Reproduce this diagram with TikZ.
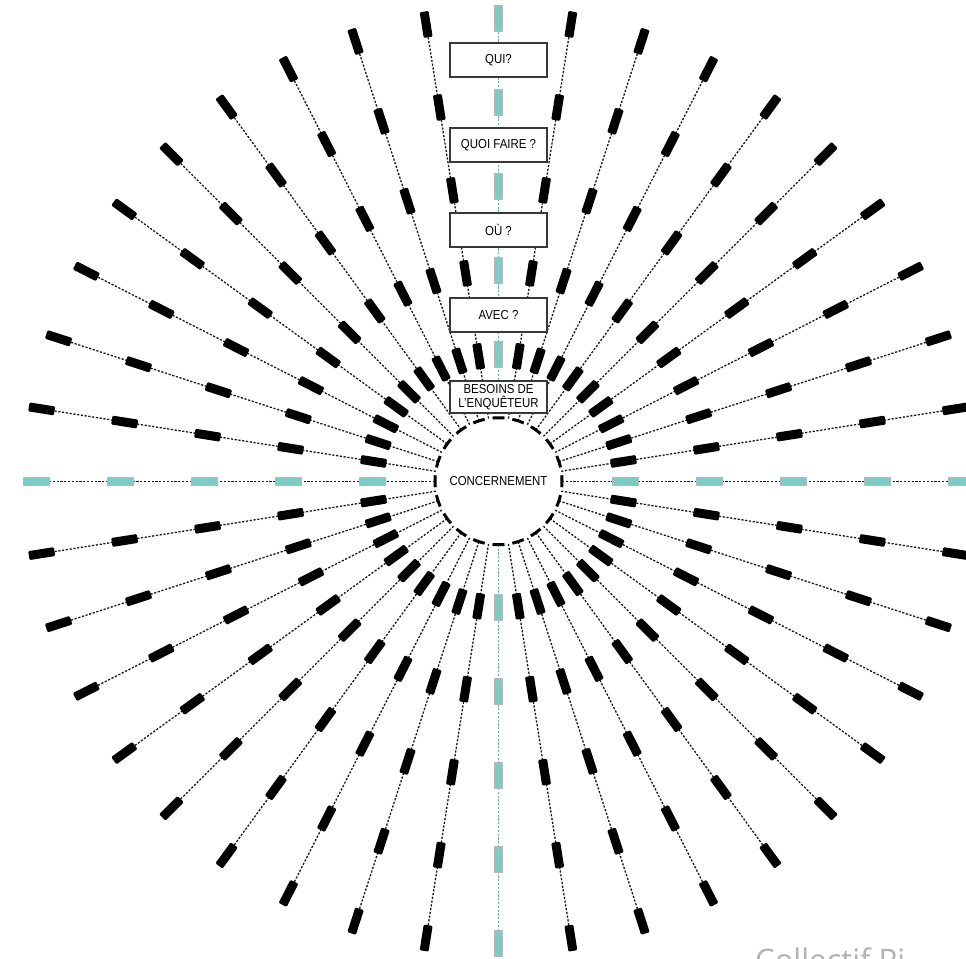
\documentclass[tikz,border=0pt]{standalone}
\usepackage{fontspec}
\setmainfont{Liberation Sans}
\newfontfamily\narrowfont[FakeStretch=0.88]{Liberation Sans}
\newfontfamily\credfont{Open Sans}
\usetikzlibrary{calc}
\definecolor{tealdash}{RGB}{126,202,196}
\definecolor{tealline}{RGB}{105,175,172}
\begin{document}
\begin{tikzpicture}[x=1pt,y=-1pt,
  ray/.style={line width=1.3pt, dash pattern=on 2.2pt off 1.6pt, black!90},
  vray/.style={line width=1.2pt, dash pattern=on 2.2pt off 1.6pt, tealline},
  bdash/.style={fill=black, rounded corners=1.2pt},
  tdash/.style={fill=tealdash, draw=gray!55, line width=0.6pt},
  cdash/.style={line width=3pt, black},
  qbox/.style={draw=black!78, line width=1.2pt, fill=white, minimum width=97pt,
    minimum height=34pt, inner sep=0pt, align=center,
    font=\narrowfont\fontsize{13}{14}\selectfont},
  credit/.style={font=\credfont\fontsize{31}{31}\selectfont, text=gray!60, anchor=base west, inner sep=0pt},
]
\useasboundingbox (0,0) rectangle (966,958);
\clip (0,0) rectangle (966,958);
\fill[white] (0,0) rectangle (966,958);
\coordinate (O) at (498.5,481.25);

% central circle
\node[circle, fill=white, minimum size=127pt, inner sep=0pt,
  font=\narrowfont\fontsize{13}{14}\selectfont] (C) at (O) {CONCERNEMENT};

% black rays
\foreach \q in {0,90,180,270}{
  \foreach \i in {1,...,9}{
    \pgfmathsetmacro\a{\q+9*\i}
    \begin{scope}[shift={(O)}, rotate=\a]
      \draw[ray] (63.5,0) -- (462.5,0);
      \foreach \r in {126.5,210.5,294.5,378.5,462.5}{
        \fill[bdash] (\r-13,-4.5) rectangle (\r+13,4.5);
      }
    \end{scope}
  }
}

% axis rays (teal)
\foreach \a/\st in {0/ray,180/ray,90/vray,270/vray}{
  \begin{scope}[shift={(O)}, rotate=\a]
    \draw[\st] (63.5,0) -- (475,0);
    \foreach \r in {126.5,210.5,294.5,378.5,462.5}{
      \filldraw[tdash] (\r-13,-4.2) rectangle (\r+13,4.2);
    }
  \end{scope}
}

% dashed circle outline
\foreach \a in {0,18,...,342}{
  \begin{scope}[shift={(O)}, rotate=\a]
    \draw[cdash] (-5.4:63.5) arc[start angle=-5.4, end angle=5.4, radius=63.5];
  \end{scope}
}

% question boxes on the upper axis
\node[qbox] (qui) at (498.5,60) {QUI?};
\node[qbox] (quoi) at (498.5,145) {QUOI FAIRE ?};
\node[qbox] (ou) at (498.5,230) {OÙ ?};
\node[qbox] (avec) at (498.5,315) {AVEC ?};
\node[qbox, minimum height=32pt] (besoins) at (498.5,397) {BESOINS DE\\L’ENQUÊTEUR};

% credit (cut at the lower edge, as in the reference)
\node[credit] (cred) at (755,971) {Collectif Pi};
\end{tikzpicture}
\end{document}
